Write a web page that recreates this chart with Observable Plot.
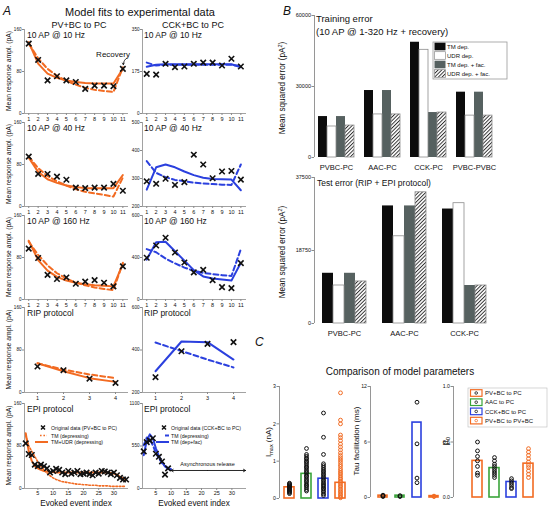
<!DOCTYPE html>
<html><head><meta charset="utf-8">
<script src="https://cdn.jsdelivr.net/npm/d3@7"></script>
<script src="https://cdn.jsdelivr.net/npm/@observablehq/plot@0.6"></script>
<style>
html,body{margin:0;padding:0;background:#fff;}
#root{position:relative;width:548px;height:507px;overflow:hidden;font-family:"Liberation Sans",Arial,Helvetica,sans-serif;background:#fff;}
#root svg{position:absolute;overflow:visible;}
</style></head><body><div id="root"></div>
<script>
// ---------------- DATA ----------------
const ORANGE = "#f26b22", BLUE = "#2b40de", GREEN = "#3aa43a";
const pulseIdx = [1,2,3,4,5,6,7,8,9,10,11];
const ripIdx = [1,2,3,4];
const epiIdx = [1,2,3,4,5,6,7,8,9,10,11,12,13,14,15,16,17,18,19,20,21,22,23,24,25,26,27,28,29,30,31,32,33,34];
const epiTicks = [5,10,15,20,25,30];

// PV+BC to PC
const pv10Data   = [133,102,63,71,63,60,47,53,53,52,85];
const pv10Solid  = [136,95,76,68,63,60,58,57,57,57,85];
const pv10Dashed = [133,105,85,72,62,55,49,45,43,41,88];
const pv40Data   = [95,62,62,57,51,36,35,36,36,43,30];
const pv40Solid  = [93,66,52,45,40,37,35,35,35,35,60];
const pv40Dashed = [95,73,58,48,40,33,28,25,22,19,55];
const pv160Data  = [97,79,47,39,42,30,34,37,32,25,63];
const pv160Solid = [112,75,55,43,36,32,29,27,26,25,68];
const pv160Dashed= [110,85,65,50,40,32,27,23,20,18,70];
const pvRipData  = [49,42,26,18];
const pvRipSolid = [55,40,27,20];
const pvRipDashed= [55,43,34,27];
const pvEpiData  = [85,65,63,45,42,45,42,38,30,33,37,35,30,27,33,28,30,33,27,28,30,27,25,30,28,33,32,30,27,30,25,20,17,17];
const pvEpiSolid = [104,70,52,42,38,35,33,32,31,31,30,30,30,30,30,30,30,30,30,30,30,30,30,30,30,30,30,30,29,28,26,22,19,17];
const pvEpiDashed= [100,80,70,60,50,42,35,29,24,20,17,15,13,12,11,10,9,8,8,7,7,6,6,6,5,5,5,5,4,4,4,4,4,4];

// CCK+BC to PC
const cck10Data   = [165,162,207,193,196,207,212,212,200,228,196];
const cck10Solid  = [195,203,205,205,205,205,205,205,205,205,193];
const cck10Dashed = [212,200,203,203,203,203,203,203,203,203,198];
const cck40Data   = [290,281,299,277,287,385,350,301,325,327,296];
const cck40Solid  = [260,340,350,340,325,312,303,298,297,296,258];
const cck40Dashed = [362,320,305,295,290,285,282,280,278,277,350];
const cck160Data  = [399,457,494,424,376,329,341,292,259,254,373];
const cck160Solid = [390,473,475,430,385,340,310,300,295,290,375];
const cck160Dashed= [440,425,395,372,352,337,327,321,316,312,440];
const cckRipData  = [272,394,429,437];
const cckRipSolid = [300,440,437,355];
const cckRipDashed= [435,395,355,318];
const cckEpiData  = [480,600,620,650,450,410,350,180,260];
const cckEpiSolid = [430,620,700,650,520,420,340,285,255,240];
const cckEpiDashed= [560,660,640,560,460,390,330,290,265,250];
const asyncArrow = {from: 10.0, mid: 22, to: 34.5, level: 233};
const recoveryArrow = [{x1: 11.45, y1: 106, x2: 11.05, y2: 93}];

// Panel B
const errSeries = ["TM dep.","UDR dep.","TM dep. + fac.","UDR dep. + fac."];
const trainCats = ["PVBC-PC","AAC-PC","CCK-PC","PVBC-PVBC"];
const trainTM     = [17300,28300,48700,27600];
const trainUDR    = [13100,18200,45500,17700];
const trainTMfac  = [17300,28300,19000,27600];
const trainUDRfac = [13500,18200,19000,17700];
const testCats = ["PVBC-PC","AAC-PC","CCK-PC"];
const testTM     = [12900,30200,29400];
const testUDR    = [9760,22400,30900];
const testTMfac  = [12900,30200,9760];
const testUDRfac = [10800,33700,9760];

// Panel C
const cCats = ["PV+BC to PC","AAC to PC","CCK+BC to PC","PV+BC to PV+BC"];
const imaxBars = [0.3,0.66,0.53,0.42];
const imaxPts = [
  [0.13,0.16,0.18,0.2,0.22,0.24,0.26,0.28,0.3,0.31,0.33,0.35,0.37,0.39,0.41],
  [0.2,0.24,0.29,0.33,0.36,0.4,0.45,0.48,0.52,0.57,0.6,0.64,0.69,0.72,0.76,0.81,0.84,0.88,0.93,0.97,1.0,1.05,1.08,1.13,1.18,1.34],
  [0.08,0.12,0.17,0.21,0.25,0.28,0.32,0.35,0.38,0.42,0.46,0.5,0.54,0.58,0.62,0.66,0.7,0.74,0.78,0.83,0.88,0.93,1.18,1.64,2.29],
  [0.02,0.05,0.09,0.13,0.17,0.21,0.25,0.3,0.34,0.38,0.43,0.47,0.52,0.56,0.61,0.66,0.7,0.75,0.8,0.86,0.91,0.97,1.03,1.09,1.15,1.22,1.3,1.38,1.46,1.55,1.63,1.7,2.0,2.1,2.83]
];
const tauBars = [0.2,0.2,8.1,0.15];
const tauPts = [[0.1,0.2,0.25],[0.1,0.2],[10.3,5.8,2.1,1.6],[0.1,0.15]];
const p0Bars = [0.33,0.265,0.14,0.305];
const p0Pts = [
  [0.5,0.42,0.37,0.33,0.28,0.22,0.2],
  [0.36,0.33,0.3,0.28,0.26,0.24,0.22,0.2,0.18],
  [0.17,0.15,0.13,0.11,0.09,0.08],
  [0.44,0.41,0.38,0.35,0.32,0.29,0.27,0.24,0.21,0.18]
];

// ---------------- LAYOUT / HELPERS ----------------
const FONT = '"Liberation Sans", Arial, Helvetica, sans-serif';
const root = document.getElementById("root");
const AX = "#8a8a8a";

function mk(frame, m, opts) {
  const [x0,y0,x1,y1] = frame; const [mt,mr,mb,ml] = m;
  const svg = Plot.plot({
    width: x1-x0+ml+mr, height: y1-y0+mt+mb,
    marginTop: mt, marginRight: mr, marginBottom: mb, marginLeft: ml,
    style: {background: "none", fontFamily: FONT, fontSize: "6px", overflow: "visible", color: "#111", maxWidth: "none"},
    ...opts
  });
  svg.style.position = "absolute";
  svg.style.left = (x0-ml) + "px"; svg.style.top = (y0-mt) + "px";
  root.appendChild(svg);
  return svg;
}

function yAxisPlot(x, y0, y1, domain, ticks, fmt, fs) {
  mk([x, y0, x, y1], [4, 2, 4, 30], {
    x: {domain: [0,1], axis: null},
    y: {domain, axis: null},
    marks: [
      Plot.ruleX([0], {stroke: AX, strokeWidth: 0.9}),
      Plot.axisY({ticks, tickFormat: fmt, tickSize: 2.5, tickPadding: 1, fontSize: fs, label: null, stroke: AX})
    ]
  });
}

function panelA(frame, c) {
  const rows = (arr) => arr.map((v,i) => ({i: c.idx[i], v}));
  const marks = [
    Plot.ruleX([c.xDomain[0]], {stroke: AX, strokeWidth: 0.8}),
    Plot.ruleY([c.yDomain[0]], {stroke: AX, strokeWidth: 0.8}),
    Plot.axisY({ticks: c.yTicks, tickFormat: c.yFmt || (d => String(d)), tickSize: 2, tickPadding: 1, fontSize: 4.6, label: null, stroke: AX}),
    Plot.axisX({ticks: c.xTicks, tickFormat: d => String(d), tickSize: 2, tickPadding: c.xPad ?? 1.5, fontSize: 5.5, label: null, stroke: AX}),
    Plot.line(rows(c.dashed), {x: "i", y: "v", stroke: c.color, strokeWidth: c.dw || 2, strokeDasharray: c.dash || "5,3"}),
    Plot.line(rows(c.solid), {x: "i", y: "v", stroke: c.color, strokeWidth: 2}),
    Plot.dot(rows(c.data), {x: "i", y: "v", symbol: "times", r: 2.6, stroke: "#111", strokeWidth: 1.6}),
    ...(c.extra || [])
  ];
  mk(frame, [3,4,10,18], {x: {domain: c.xDomain, axis: null}, y: {domain: c.yDomain, axis: null}, marks});
}

const rowY = [[29,113],[122,206],[215,299],[307,392],[403,488]];
const colX = [[24,128],[142,246]];
const F = (c, r) => [colX[c][0], rowY[r][0], colX[c][1], rowY[r][1]];
const X11 = [0.55, 11.6], X4 = [0.5, 4.5], X34 = [0.6, 34.8];

// ---------------- PANEL A ----------------
panelA(F(0,0), {xDomain: X11, xTicks: pulseIdx, idx: pulseIdx, yDomain: [0,160], yTicks: [0,80,160], color: ORANGE,
  data: pv10Data, solid: pv10Solid, dashed: pv10Dashed,
  extra: [
    Plot.text(["Recovery"], {x: 11.75, y: 113, text: d => d, textAnchor: "end", fontSize: 8, fill: "#111"}),
    Plot.arrow(recoveryArrow, {x1: "x1", y1: "y1", x2: "x2", y2: "y2", bend: -30, headLength: 3.5, strokeWidth: 0.8, stroke: "#111"})
  ]});
panelA(F(1,0), {xDomain: X11, xTicks: pulseIdx, idx: pulseIdx, yDomain: [0,350], yTicks: [0,175,350], color: BLUE,
  data: cck10Data, solid: cck10Solid, dashed: cck10Dashed});
panelA(F(0,1), {xDomain: X11, xTicks: pulseIdx, idx: pulseIdx, yDomain: [0,160], yTicks: [0,80,160], color: ORANGE,
  data: pv40Data, solid: pv40Solid, dashed: pv40Dashed});
panelA(F(1,1), {xDomain: X11, xTicks: pulseIdx, idx: pulseIdx, yDomain: [200,500], yTicks: [200,300,400,500], color: BLUE,
  data: cck40Data, solid: cck40Solid, dashed: cck40Dashed});
panelA(F(0,2), {xDomain: X11, xTicks: pulseIdx, idx: pulseIdx, yDomain: [0,160], yTicks: [0,80,160], color: ORANGE,
  data: pv160Data, solid: pv160Solid, dashed: pv160Dashed});
panelA(F(1,2), {xDomain: X11, xTicks: pulseIdx, idx: pulseIdx, yDomain: [200,600], yTicks: [200,400,600], color: BLUE,
  yFmt: d => d === 200 ? "0" : String(d),
  data: cck160Data, solid: cck160Solid, dashed: cck160Dashed});
panelA(F(0,3), {xDomain: X4, xTicks: ripIdx, idx: ripIdx, yDomain: [0,160], yTicks: [0,80,160], color: ORANGE,
  data: pvRipData, solid: pvRipSolid, dashed: pvRipDashed});
panelA(F(1,3), {xDomain: X4, xTicks: ripIdx, idx: ripIdx, yDomain: [200,600], yTicks: [200,400,600], color: BLUE,
  data: cckRipData, solid: cckRipSolid, dashed: cckRipDashed});
panelA(F(0,4), {xDomain: X34, xTicks: epiTicks, idx: epiIdx, yDomain: [0,160], yTicks: [0,80,160], color: ORANGE, xPad: 0.5,
  data: pvEpiData, solid: pvEpiSolid, dashed: pvEpiDashed, dash: "1.6,1.8", dw: 1.6});
panelA(F(1,4), {xDomain: X34, xTicks: epiTicks, idx: epiIdx, yDomain: [0,1100], yTicks: [0,550,1100], color: BLUE, xPad: 0.5,
  data: cckEpiData, solid: cckEpiSolid, dashed: cckEpiDashed, dash: "4,3",
  extra: [
    Plot.arrow([asyncArrow], {x1: "mid", x2: "from", y: "level", headLength: 4, strokeWidth: 0.9, stroke: "#111"}),
    Plot.arrow([asyncArrow], {x1: "mid", x2: "to", y: "level", headLength: 4, strokeWidth: 0.9, stroke: "#111"}),
    Plot.text(["Asynchronous release"], {x: asyncArrow.mid, y: asyncArrow.level, dy: -6, text: d => d, fontSize: 5.5, fill: "#111"})
  ]});

// ---------------- PANEL B ----------------
function errRows(cats, arrs) {
  return cats.flatMap((c, j) => errSeries.map((s, k) => ({cat: c, series: s, value: arrs[k][j]})));
}
function errChart(frame, cats, rows, yDomain, yTicks, pi, po) {
  yAxisPlot(frame[0], frame[1], frame[3], yDomain, yTicks, d => String(d), 5.5);
  const outline = rows.filter(d => d.series === "UDR dep." || d.series === "UDR dep. + fac.");
  mk(frame, [2,2,16,0], {
    fx: {domain: cats, paddingInner: pi, paddingOuter: po},
    x: {domain: errSeries, padding: 0.04, axis: null},
    y: {domain: yDomain, axis: null},
    color: {domain: errSeries, range: ["#0c0c0c", "#ffffff", "#566160", "url(#hatch)"]},
    marks: [
      Plot.barY(rows, {fx: "cat", x: "series", y: "value", fill: "series"}),
      Plot.barY(outline, {fx: "cat", x: "series", y: "value", fill: "none", stroke: "#8c8c8c", strokeWidth: 0.8}),
      Plot.axisFx({anchor: "bottom", tickSize: 0, tickPadding: 7, fontSize: 7.5, label: null})
    ]
  });
}
errChart([314,15,496,157], trainCats, errRows(trainCats, [trainTM, trainUDR, trainTMfac, trainUDRfac]), [0,60000], [0,30000,60000], 0.18, 0.05);
errChart([314,177,494,323], testCats, errRows(testCats, [testTM, testUDR, testTMfac, testUDRfac]), [0,37500], [0,18750,37500], 0.2, 0.08);

// ---------------- PANEL C ----------------
function cChart(frame, yDomain, yTicks, fmt, bars, pts, band) {
  yAxisPlot(frame[0], frame[1], frame[3], yDomain, yTicks, fmt, 5.2);
  const barRows = cCats.map((c, i) => ({cat: c, value: bars[i]}));
  const blackPts = pts.slice(0,3).flatMap((arr, i) => arr.map(v => ({cat: cCats[i], value: v})));
  const orangePts = pts[3].map(v => ({cat: cCats[3], value: v}));
  mk(frame, [2,2,4,0], {
    x: {domain: cCats, paddingInner: band[0], paddingOuter: band[1], align: band[2], axis: null},
    y: {domain: yDomain, axis: null},
    color: {domain: cCats, range: [ORANGE, GREEN, BLUE, ORANGE]},
    marks: [
      Plot.barY(barRows, {x: "cat", y: "value", stroke: "cat", fill: "white", strokeWidth: 1.6}),
      Plot.dot(blackPts, {x: "cat", y: "value", r: 1.9, stroke: "#111", strokeWidth: 1}),
      Plot.dot(orangePts, {x: "cat", y: "value", r: 1.9, stroke: ORANGE, strokeWidth: 1})
    ]
  });
}
cChart([279,386,350,498], [0,3], [0,1,2,3], d => String(d), imaxBars, imaxPts, [0.39, 0.26, 0.5]);
cChart([370,386,443,497], [0,12], [0,6,12], d => String(d), tauBars, tauPts, [0.46, 0.31, 0.64]);
cChart([453,386,540,497], [0,1], [0,0.5,1], d => d3.format(".1f")(d), p0Bars, p0Pts, [0.4, 0.62, 0.75]);

// ---------------- OVERLAY TEXT / LEGENDS ----------------
const ov = d3.select(root).append("svg").attr("width", 548).attr("height", 507)
  .style("left", "0px").style("top", "0px").style("pointer-events", "none").attr("font-family", FONT);
const defs = ov.append("defs");
const pat = defs.append("pattern").attr("id", "hatch").attr("patternUnits", "userSpaceOnUse")
  .attr("width", 2.6).attr("height", 2.6).attr("patternTransform", "rotate(45)");
pat.append("rect").attr("width", 2.6).attr("height", 2.6).attr("fill", "#fff");
pat.append("line").attr("x1", 0.5).attr("y1", 0).attr("x2", 0.5).attr("y2", 2.6).attr("stroke", "#222").attr("stroke-width", 0.9);

function T(x, y, str, o = {}) {
  const t = ov.append("text").attr("x", x).attr("y", y).attr("font-size", o.size || 8)
    .attr("text-anchor", o.anchor || "start").attr("fill", o.fill || "#111");
  if (o.rot) t.attr("transform", `rotate(${o.rot},${x},${y})`);
  if (o.italic) t.attr("font-style", "italic");
  if (str != null) t.text(str);
  return t;
}

// Panel A text
T(3, 15, "A", {size: 12, italic: true});
T(140, 16, "Model fits to experimental data", {size: 11, anchor: "middle"});
T(79, 27.5, "PV+BC to PC", {size: 9, anchor: "middle"});
T(193, 27.5, "CCK+BC to PC", {size: 9, anchor: "middle"});
const rowTitles = [["10 AP @ 10 Hz","10 AP @ 10 Hz"],["10 AP @ 40 Hz","10 AP @ 40 Hz"],["10 AP @ 160 Hz","10 AP @ 160 Hz"],["RIP protocol","RIP protocol"],["EPI protocol","EPI protocol"]];
rowY.forEach(([t, b], r) => {
  T(colX[0][0] + 3, t + 9, rowTitles[r][0], {size: 8.5});
  T(colX[1][0] + 2, t + 9, rowTitles[r][1], {size: 8.5});
  T(10.5, (t + b) / 2, "Mean response ampl. (pA)", {size: 6.8, anchor: "middle", rot: -90});
});
T(76, 506, "Evoked event index", {size: 8.2, anchor: "middle"});
T(194, 506, "Evoked event index", {size: 8.2, anchor: "middle"});

// EPI legends
function cross(x, y) {
  ov.append("path").attr("d", `M${x-2},${y-2}L${x+2},${y+2}M${x-2},${y+2}L${x+2},${y-2}`).attr("stroke", "#111").attr("stroke-width", 1.5);
}
cross(43, 427.5);
T(51, 429.5, "Original data (PV+BC to PC)", {size: 5.2});
ov.append("line").attr("x1", 40).attr("x2", 47).attr("y1", 435.5).attr("y2", 435.5).attr("stroke", ORANGE).attr("stroke-width", 1.6).attr("stroke-dasharray", "1.6,1.8");
T(51, 437.5, "TM (depressing)", {size: 5.2});
ov.append("line").attr("x1", 35).attr("x2", 48).attr("y1", 442).attr("y2", 442).attr("stroke", ORANGE).attr("stroke-width", 2);
T(51, 444, "TM+UDR (depressing)", {size: 5.2});
cross(164, 427.5);
T(171, 429.5, "Original data (CCK+BC to PC)", {size: 5.2});
ov.append("line").attr("x1", 165).attr("x2", 169).attr("y1", 435.5).attr("y2", 435.5).attr("stroke", BLUE).attr("stroke-width", 2);
T(171, 437.5, "TM (depressing)", {size: 5.2});
ov.append("line").attr("x1", 156).attr("x2", 169).attr("y1", 442).attr("y2", 442).attr("stroke", BLUE).attr("stroke-width", 2);
T(171, 444, "TM (dep+fac)", {size: 5.2});

// Panel B text
T(283, 15, "B", {size: 12, italic: true});
T(316, 22, "Training error", {size: 9.5});
T(316, 34.5, "(10 AP @ 1-320 Hz + recovery)", {size: 9.5});
T(317, 186, "Test error (RIP + EPI protocol)", {size: 8.5});
function mse(cy) {
  const t = T(285, cy, null, {size: 8.2, anchor: "middle", rot: -90});
  t.append("tspan").text("Mean squared error (pA");
  t.append("tspan").attr("dy", -3).attr("font-size", 5.5).text("2");
  t.append("tspan").attr("dy", 3).text(")");
}
mse(88); mse(252);
// training legend
ov.append("rect").attr("x", 433).attr("y", 42).attr("width", 74).attr("height", 37).attr("fill", "#fff").attr("stroke", "#999").attr("stroke-width", 0.8);
const legFills = ["#0c0c0c", "#ffffff", "#566160", "url(#hatch)"];
errSeries.forEach((s, k) => {
  const cy = 46.5 + k * 9;
  ov.append("rect").attr("x", 434.5).attr("y", cy - 3.8).attr("width", 11).attr("height", 7.6)
    .attr("fill", legFills[k]).attr("stroke", k % 2 ? "#8c8c8c" : "none").attr("stroke-width", 0.7);
  T(447, cy + 2.2, s, {size: 6});
});

// Panel C text
T(255, 346, "C", {size: 12, italic: true});
T(400, 375, "Comparison of model parameters", {size: 10, anchor: "middle"});
{
  const t = T(271, 442, null, {size: 8, anchor: "middle", rot: -90});
  t.append("tspan").text("I");
  t.append("tspan").attr("dy", 2).attr("font-size", 5.5).text("max");
  t.append("tspan").attr("dy", -2).text(" (nA)");
}
T(359, 441, "Tau facilitation (ms)", {size: 8, anchor: "middle", rot: -90});
{
  const t = T(448, 441, null, {size: 9, anchor: "middle", rot: -90});
  t.append("tspan").text("p");
  t.append("tspan").attr("dy", 2).attr("font-size", 6).text("0");
}
// C legend
ov.append("rect").attr("x", 468).attr("y", 388).attr("width", 79).attr("height", 39).attr("fill", "#fff").attr("stroke", "#bbb").attr("stroke-width", 0.6);
const cCols = [ORANGE, GREEN, BLUE, ORANGE];
cCats.forEach((s, k) => {
  const cy = 393 + k * 9.2;
  ov.append("rect").attr("x", 470.5).attr("y", cy - 3.3).attr("width", 11.5).attr("height", 6.6)
    .attr("fill", "#fff").attr("stroke", cCols[k]).attr("stroke-width", 1.2);
  ov.append("circle").attr("cx", 476.2).attr("cy", cy).attr("r", 1.3).attr("fill", "none")
    .attr("stroke", k === 3 ? ORANGE : "#111").attr("stroke-width", 0.8);
  T(485, cy + 2.2, s, {size: 6});
});
</script></body></html>
